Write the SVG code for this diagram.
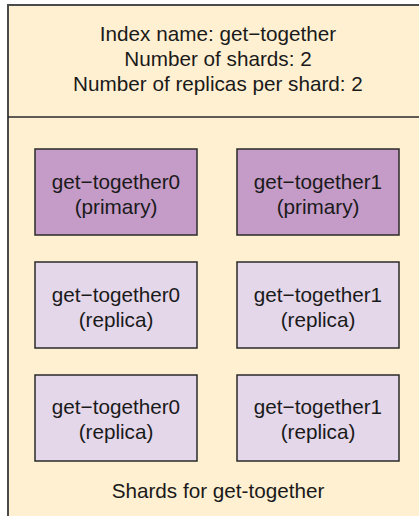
<svg xmlns="http://www.w3.org/2000/svg" width="419" height="516" viewBox="0 0 419 516">
<style>
text{font-family:"Liberation Sans",Arial,sans-serif;font-size:20.7px;fill:#1a1a1a;text-anchor:middle}
.pri{fill:#c59bc8;stroke:#2a2a2a;stroke-width:1.5}
.rep{fill:#e4d7ea;stroke:#2a2a2a;stroke-width:1.5}
</style>
<rect width="419" height="516" fill="#ffffff"/>
<g id="index">
<rect x="8" y="5" width="430" height="530" fill="#fff0d1" stroke="#4a4a4a" stroke-width="2"/>
<text x="218" y="41">Index name: get−together</text>
<text x="218" y="66">Number of shards: 2</text>
<text x="218" y="91">Number of replicas per shard: 2</text>
</g>
<g id="connectors">
<line x1="8" y1="117" x2="419" y2="117" stroke="#2a2a2a" stroke-width="1.5"/>
</g>
<g id="p0"><rect class="pri" x="35" y="149" width="162" height="86"/><text x="116" y="189">get−together0</text><text x="116" y="214">(primary)</text></g>
<g id="p1"><rect class="pri" x="237" y="149" width="162" height="86"/><text x="318" y="189">get−together1</text><text x="318" y="214">(primary)</text></g>
<g id="r0a"><rect class="rep" x="35" y="262" width="162" height="86"/><text x="116" y="302">get−together0</text><text x="116" y="327">(replica)</text></g>
<g id="r1a"><rect class="rep" x="237" y="262" width="162" height="86"/><text x="318" y="302">get−together1</text><text x="318" y="327">(replica)</text></g>
<g id="r0b"><rect class="rep" x="35" y="375" width="162" height="86"/><text x="116" y="414">get−together0</text><text x="116" y="439">(replica)</text></g>
<g id="r1b"><rect class="rep" x="237" y="375" width="162" height="86"/><text x="318" y="414">get−together1</text><text x="318" y="439">(replica)</text></g>
<g id="label"><text x="218" y="498">Shards for get-together</text></g>
</svg>
